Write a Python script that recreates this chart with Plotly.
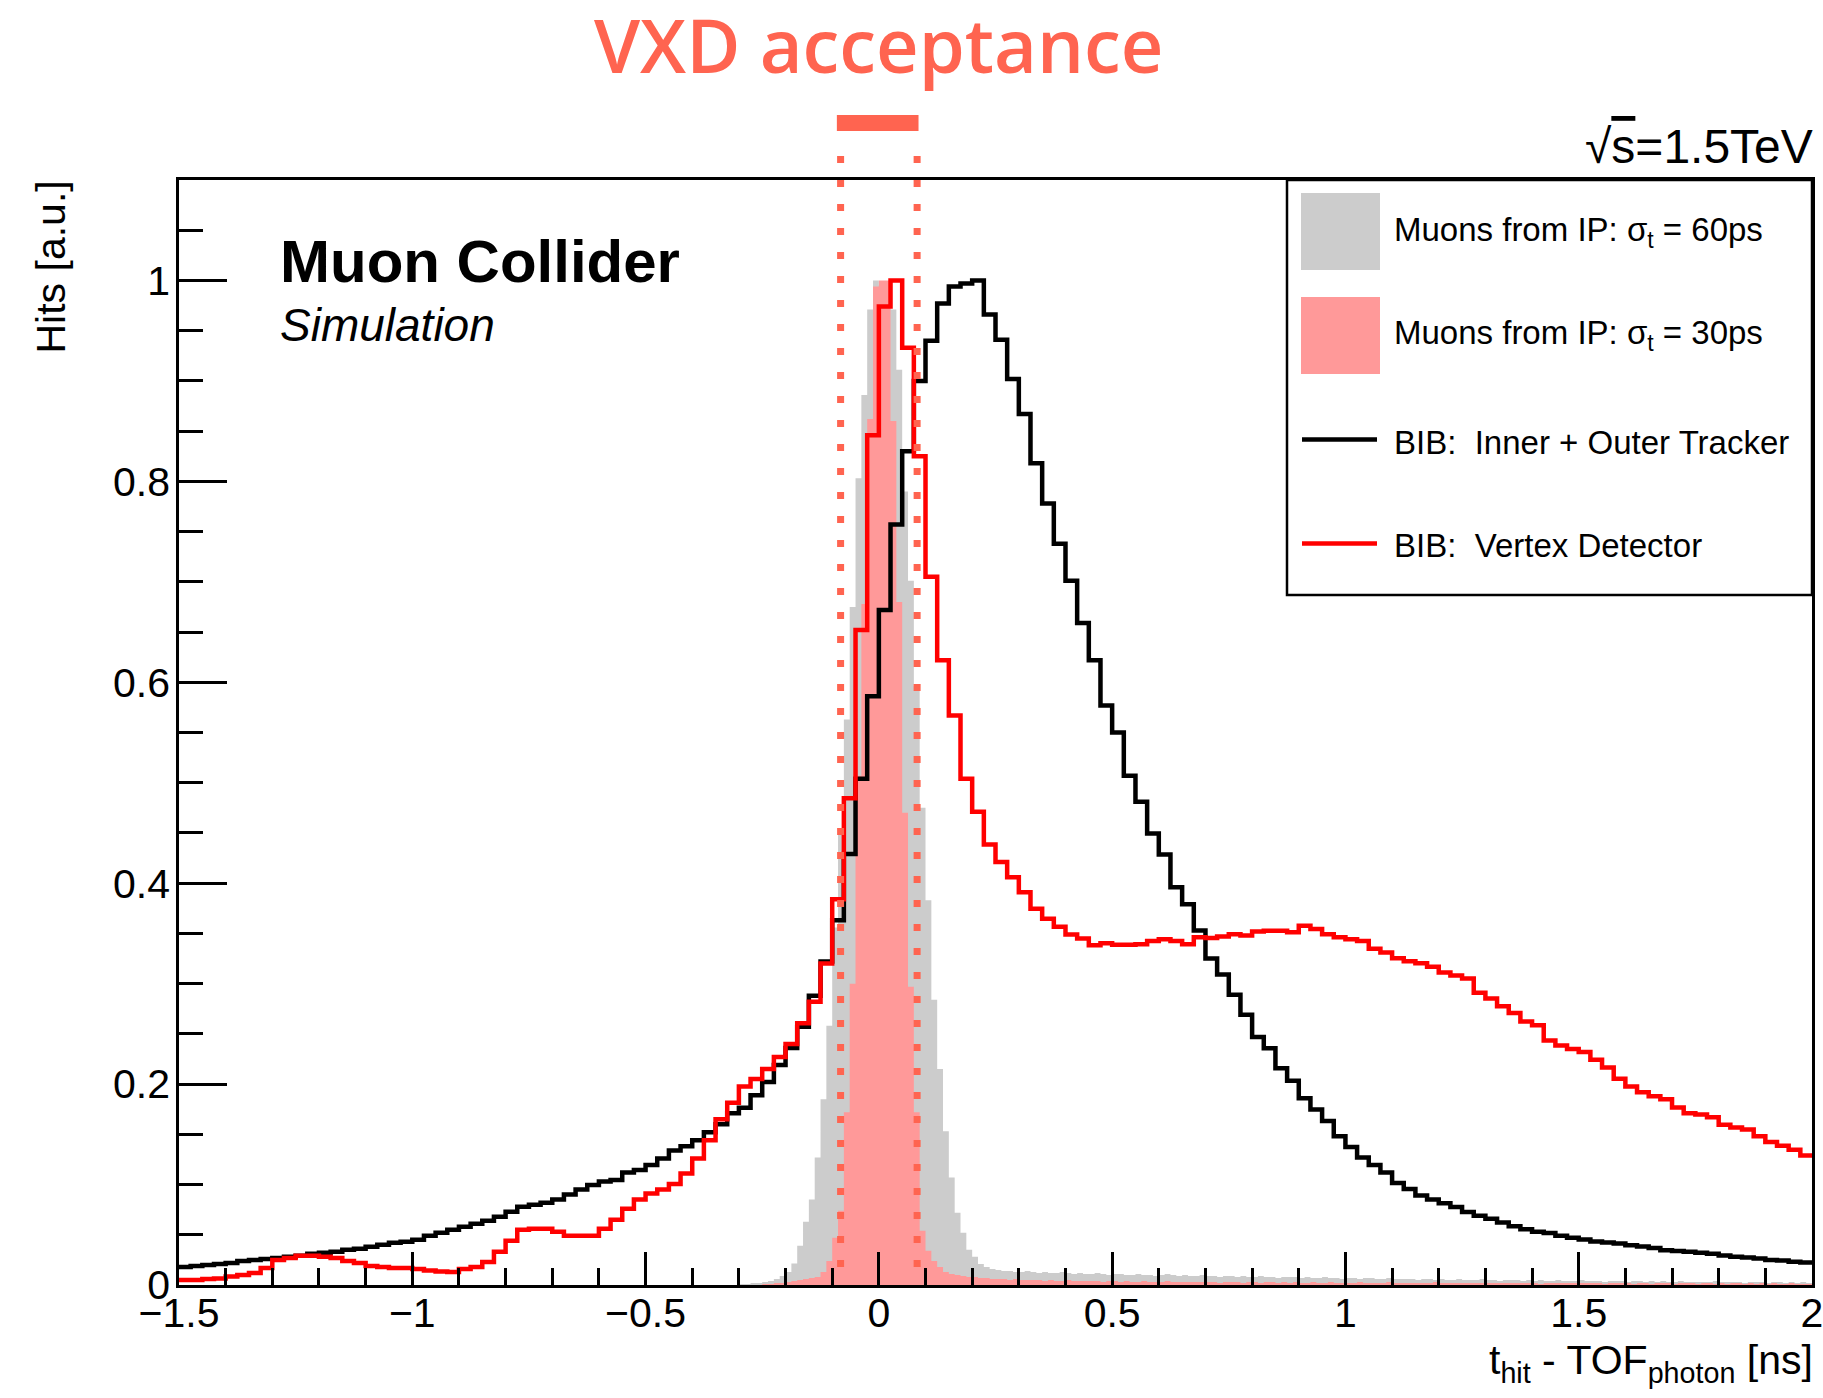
import numpy as np
import plotly.graph_objects as go

# ---------------- data ----------------
BIN_START = -1.5          # first edge of the BIB histograms [ns]
LINE_BIN_WIDTH = 0.025    # BIB histogram bin width [ns]
FINE_START = -0.3         # first edge of the muon histograms [ns]
FINE_BIN_WIDTH = 0.0125   # muon histogram bin width [ns]

bib_tracker = [
    0.018, 0.019, 0.020, 0.021, 0.022, 0.024, 0.025, 0.026, 0.027, 0.028,
    0.029, 0.031, 0.032, 0.033, 0.035, 0.036, 0.038, 0.040, 0.042, 0.043,
    0.045, 0.049, 0.052, 0.055, 0.058, 0.061, 0.064, 0.068, 0.073, 0.078,
    0.080, 0.082, 0.085, 0.090, 0.095, 0.0995, 0.103, 0.1045, 0.112, 0.1145,
    0.1195, 0.126, 0.134, 0.138, 0.144, 0.152, 0.160, 0.171, 0.1765, 0.189,
    0.202, 0.219, 0.236, 0.257, 0.288, 0.322, 0.363, 0.429, 0.504, 0.586,
    0.672, 0.757, 0.830, 0.900, 0.940, 0.977, 0.994, 0.997, 1.0, 0.966,
    0.941, 0.902, 0.867, 0.818, 0.778, 0.738, 0.701, 0.659, 0.622, 0.577,
    0.550, 0.507, 0.481, 0.4495, 0.4285, 0.396, 0.379, 0.353, 0.325, 0.309,
    0.289, 0.269, 0.247, 0.2357, 0.2158, 0.2033, 0.186, 0.1747, 0.1633, 0.148,
    0.1374, 0.127, 0.1195, 0.112, 0.1015, 0.0955, 0.089, 0.0852, 0.0814, 0.0776,
    0.0727, 0.069, 0.066, 0.0623, 0.0585, 0.0555, 0.053, 0.0518, 0.049, 0.047,
    0.0452, 0.0433, 0.0422, 0.0414, 0.0395, 0.0384, 0.0369, 0.0346, 0.0338, 0.033,
    0.032, 0.031, 0.0293, 0.0282, 0.0274, 0.0263, 0.025, 0.0243, 0.0232, 0.0224,
]

bib_vertex = [
    0.005, 0.005, 0.006, 0.0065, 0.0085, 0.010, 0.012, 0.017, 0.025, 0.027,
    0.029, 0.029, 0.028, 0.027, 0.024, 0.022, 0.019, 0.018, 0.017, 0.017,
    0.016, 0.0145, 0.0135, 0.013, 0.016, 0.018, 0.023, 0.033, 0.044, 0.055,
    0.056, 0.056, 0.053, 0.049, 0.049, 0.049, 0.056, 0.065, 0.076, 0.085,
    0.091, 0.095, 0.1005, 0.111, 0.126, 0.144, 0.165, 0.1815, 0.1975, 0.205,
    0.215, 0.227, 0.240, 0.2605, 0.282, 0.320, 0.384, 0.4845, 0.652, 0.846,
    0.974, 1.0, 0.933, 0.825, 0.705, 0.622, 0.567, 0.504, 0.471, 0.4385,
    0.421, 0.406, 0.391, 0.3745, 0.3646, 0.3567, 0.3488, 0.3449, 0.3383, 0.3403,
    0.3386, 0.3386, 0.3393, 0.3424, 0.3443, 0.3424, 0.3393, 0.3461, 0.3455, 0.347,
    0.3492, 0.348, 0.3519, 0.3527, 0.3527, 0.3511, 0.3576, 0.3545, 0.3492, 0.3461,
    0.3443, 0.3424, 0.3347, 0.3309, 0.3252, 0.3222, 0.3203, 0.3168, 0.3111, 0.3081,
    0.305, 0.2909, 0.2852, 0.2776, 0.2707, 0.2623, 0.2585, 0.2433, 0.2383, 0.2349,
    0.2319, 0.2243, 0.2166, 0.2052, 0.1976, 0.1919, 0.188, 0.185, 0.1766, 0.1709,
    0.1698, 0.1671, 0.1595, 0.1568, 0.1549, 0.148, 0.1423, 0.1385, 0.1347, 0.129,
]

muons_60ps = [
    0.001, 0.001, 0.002, 0.002, 0.003, 0.004, 0.006, 0.009, 0.013,
    0.0215, 0.039, 0.063, 0.085, 0.127, 0.185, 0.258, 0.356, 0.455, 0.563,
    0.675, 0.803, 0.886, 0.971, 1.0, 0.995, 0.985, 0.971, 0.911, 0.790,
    0.701, 0.596, 0.475, 0.383, 0.284, 0.215, 0.153, 0.107, 0.072, 0.052,
    0.035, 0.028, 0.021, 0.018, 0.016, 0.015,
    0.014, 0.014, 0.013, 0.013, 0.014, 0.013, 0.012, 0.013, 0.012, 0.012,
    0.013, 0.012, 0.011, 0.012, 0.011, 0.011, 0.012, 0.011, 0.010, 0.011,
    0.011, 0.010, 0.010, 0.011, 0.010, 0.010, 0.009, 0.010, 0.011, 0.010,
    0.009, 0.010, 0.009, 0.009, 0.010, 0.009, 0.009, 0.008, 0.009, 0.009,
    0.008, 0.009, 0.008, 0.008, 0.009, 0.008, 0.008, 0.007, 0.008, 0.008,
    0.008, 0.007, 0.008, 0.007, 0.007, 0.008, 0.007, 0.007, 0.006, 0.007,
    0.007, 0.006, 0.007, 0.007, 0.006, 0.006, 0.007, 0.006, 0.006, 0.006,
    0.006, 0.005, 0.006, 0.006, 0.005, 0.006, 0.005, 0.005, 0.006, 0.005,
    0.005, 0.005, 0.006, 0.005, 0.005, 0.004, 0.005, 0.005, 0.005, 0.004,
    0.005, 0.004, 0.005, 0.004, 0.004, 0.005, 0.004, 0.004, 0.004, 0.005,
    0.004, 0.004, 0.004, 0.003, 0.004, 0.004, 0.004, 0.003, 0.004, 0.004,
    0.003, 0.004, 0.003, 0.004, 0.003, 0.003, 0.004, 0.003, 0.003, 0.003,
    0.003, 0.003, 0.004, 0.003, 0.003, 0.003, 0.003, 0.002, 0.003, 0.003,
    0.003, 0.002, 0.003, 0.003, 0.002, 0.003, 0.002, 0.003, 0.002,
]

muons_30ps = [
    0.0, 0.0, 0.0, 0.0, 0.001, 0.001, 0.002, 0.002, 0.003,
    0.004, 0.005, 0.006, 0.007, 0.008, 0.013, 0.024, 0.047, 0.074, 0.172,
    0.300, 0.507, 0.678, 0.862, 0.994, 1.0, 1.0, 0.860, 0.680, 0.470,
    0.297, 0.172, 0.054, 0.034, 0.024, 0.018, 0.013, 0.011, 0.010, 0.009,
    0.008, 0.008, 0.007, 0.007, 0.006, 0.006,
    0.006, 0.005, 0.006, 0.005, 0.005, 0.005, 0.005, 0.004, 0.005, 0.004,
    0.004, 0.005, 0.004, 0.004, 0.004, 0.004, 0.004, 0.003, 0.004, 0.004,
    0.003, 0.004, 0.003, 0.003, 0.004, 0.003, 0.003, 0.003, 0.004, 0.003,
    0.003, 0.003, 0.003, 0.003, 0.003, 0.003, 0.003, 0.002, 0.003, 0.003,
    0.003, 0.002, 0.003, 0.003, 0.002, 0.003, 0.003, 0.002, 0.003, 0.002,
    0.003, 0.002, 0.002, 0.003, 0.002, 0.002, 0.003, 0.002, 0.002, 0.002,
    0.002, 0.003, 0.002, 0.002, 0.002, 0.002, 0.003, 0.002, 0.002, 0.002,
    0.002, 0.002, 0.002, 0.002, 0.003, 0.002, 0.002, 0.002, 0.002, 0.002,
    0.002, 0.002, 0.002, 0.002, 0.002, 0.002, 0.002, 0.002, 0.002, 0.002,
    0.002, 0.002, 0.001, 0.002, 0.002, 0.002, 0.002, 0.002, 0.002, 0.002,
    0.002, 0.002, 0.002, 0.001, 0.002, 0.002, 0.002, 0.002, 0.001, 0.002,
    0.002, 0.001, 0.002, 0.002, 0.002, 0.001, 0.002, 0.002, 0.002, 0.001,
    0.002, 0.002, 0.001, 0.002, 0.001, 0.002, 0.002, 0.001, 0.002, 0.001,
    0.002, 0.001, 0.002, 0.001, 0.001, 0.002, 0.001, 0.001, 0.001,
]

ACCEPTANCE = [-0.082, 0.082]      # VXD time window [ns]

x_tickvals = [-1.5, -1.0, -0.5, 0.0, 0.5, 1.0, 1.5, 2.0]
x_ticktext = ["\u22121.5", "\u22121", "\u22120.5", "0", "0.5", "1", "1.5", "2"]
y_tickvals = [0.0, 0.2, 0.4, 0.6, 0.8, 1.0]
y_ticktext = ["0", "0.2", "0.4", "0.6", "0.8", "1"]

legend_labels = [
    "Muons from IP: \u03c3<sub>t</sub> = 60ps",
    "Muons from IP: \u03c3<sub>t</sub> = 30ps",
    "BIB:  Inner + Outer Tracker",
    "BIB:  Vertex Detector",
]

# ---------------- styles ----------------
GRAY = "#cccccc"
PINK = "#ff9999"
RED = "#ff0000"
BLACK = "#000000"
CORAL = "#ff6450"
FONT = "Liberation Sans, Arial, Helvetica, sans-serif"

W, H = 1823, 1398
ML, MR, MT, MB = 179, 11, 180, 113
PW, PH = W - ML - MR, H - MT - MB


def px_x(xf):
    return (xf - ML) / PW


def px_y(yf):
    return (H - MB - yf) / PH


def step_xy(start, width, vals):
    vals = np.asarray(vals, dtype=float)
    edges = start + width * np.arange(len(vals) + 1)
    return edges, np.append(vals, vals[-1])


fig = go.Figure()

for vals, col in [(muons_60ps, GRAY), (muons_30ps, PINK)]:
    ex, ey = step_xy(FINE_START, FINE_BIN_WIDTH, vals)
    fig.add_trace(go.Scatter(x=ex, y=ey, mode="lines",
                             line=dict(shape="hv", width=0, color=col),
                             fill="tozeroy", fillcolor=col,
                             hoverinfo="skip", showlegend=False))

for vals, col in [(bib_tracker, BLACK), (bib_vertex, RED)]:
    ex, ey = step_xy(BIN_START, LINE_BIN_WIDTH, vals)
    fig.add_trace(go.Scatter(x=ex, y=ey, mode="lines",
                             line=dict(shape="hv", width=4.5, color=col),
                             hoverinfo="skip", showlegend=False))

shapes = []
# acceptance window: dotted lines + bar
for xv in ACCEPTANCE:
    shapes.append(dict(type="line", xref="x", yref="paper",
                       x0=xv, x1=xv, y0=px_y(156), y1=px_y(1280),
                       line=dict(color=CORAL, width=7, dash="7px,17px")))
shapes.append(dict(type="rect", xref="x", yref="paper",
                   x0=ACCEPTANCE[0] - 0.008, x1=ACCEPTANCE[1] + 0.003,
                   y0=px_y(131), y1=px_y(115),
                   line=dict(width=0), fillcolor=CORAL))

# legend box
shapes.append(dict(type="rect", xref="paper", yref="paper",
                   x0=px_x(1287), x1=1.0, y0=px_y(595), y1=1.0,
                   line=dict(color=BLACK, width=2.5), fillcolor="white",
                   layer="above"))
# swatches
shapes.append(dict(type="rect", xref="paper", yref="paper",
                   x0=px_x(1301), x1=px_x(1380), y0=px_y(270), y1=px_y(193),
                   line=dict(width=0), fillcolor=GRAY))
shapes.append(dict(type="rect", xref="paper", yref="paper",
                   x0=px_x(1301), x1=px_x(1380), y0=px_y(374), y1=px_y(297),
                   line=dict(width=0), fillcolor=PINK))
shapes.append(dict(type="line", xref="paper", yref="paper",
                   x0=px_x(1302), x1=px_x(1377), y0=px_y(439.5), y1=px_y(439.5),
                   line=dict(color=BLACK, width=4.5)))
shapes.append(dict(type="line", xref="paper", yref="paper",
                   x0=px_x(1302), x1=px_x(1377), y0=px_y(543.5), y1=px_y(543.5),
                   line=dict(color=RED, width=4.5)))

annotations = []
legend_y = [231.8, 335.3, 442.1, 545.4]
for lab, yy in zip(legend_labels, legend_y):
    annotations.append(dict(xref="paper", yref="paper", x=px_x(1393), y=px_y(yy),
                            xanchor="left", yanchor="middle", showarrow=False,
                            text=lab, borderpad=0,
                            font=dict(family=FONT, size=33, color=BLACK)))

annotations += [
    dict(xref="x", yref="paper", x=0.0, y=px_y(44), xanchor="center",
         yanchor="middle", showarrow=False, text="VXD acceptance", borderpad=0,
         font=dict(family="Open Sans, sans-serif", size=74, color=CORAL, weight=600)),
    dict(xref="paper", yref="paper", x=px_x(279), y=px_y(261.7), xanchor="left",
         yanchor="middle", showarrow=False, text="<b>Muon Collider</b>", borderpad=0,
         font=dict(family=FONT, size=60, color=BLACK)),
    dict(xref="paper", yref="paper", x=px_x(279), y=px_y(324.7), xanchor="left",
         yanchor="middle", showarrow=False, text="<i>Simulation</i>", borderpad=0,
         font=dict(family=FONT, size=46, color=BLACK)),
    dict(xref="paper", yref="paper", x=px_x(1814), y=px_y(146.4), xanchor="right",
         yanchor="middle", showarrow=False, borderpad=0,
         text="\u221a<span style='text-decoration:overline'>s</span>=1.5TeV",
         font=dict(family=FONT, size=48, color=BLACK)),
    dict(xref="paper", yref="paper", x=px_x(50), y=1.0, xanchor="center",
         yanchor="top", showarrow=False, textangle=-90, text="Hits [a.u.]",
         borderpad=0, font=dict(family=FONT, size=41, color=BLACK)),
    dict(xref="paper", yref="paper", x=px_x(1814), y=px_y(1363), xanchor="right",
         yanchor="middle", showarrow=False, borderpad=0,
         text="t<sub>hit</sub> - TOF<sub>photon</sub> [ns]",
         font=dict(family=FONT, size=41, color=BLACK)),
]

axis_common = dict(showgrid=False, zeroline=False, showline=True, mirror=True,
                   linecolor=BLACK, linewidth=2.5, ticks="inside",
                   tickcolor=BLACK, tickwidth=2.5, automargin=False,
                   ticklabeloverflow="allow",
                   tickfont=dict(family=FONT, size=41, color=BLACK))

fig.update_layout(
    width=W, height=H,
    margin=dict(l=ML, r=MR, t=MT, b=MB, pad=0, autoexpand=False),
    paper_bgcolor="white", plot_bgcolor="white",
    showlegend=False,
    font=dict(family=FONT, color=BLACK),
    xaxis=dict(range=[x_tickvals[0], x_tickvals[-1]], tickmode="array",
               tickvals=x_tickvals, ticktext=x_ticktext, ticklen=33,
               minor=dict(ticks="inside", ticklen=17, tickwidth=2.5,
                          tickcolor=BLACK, tickmode="linear",
                          tick0=x_tickvals[0], dtick=0.1),
               ticklabelstandoff=-10, **axis_common),
    yaxis=dict(range=[0, 1.1], tickmode="array", tickvals=y_tickvals,
               ticktext=y_ticktext, ticklen=48,
               minor=dict(ticks="inside", ticklen=24, tickwidth=2.5,
                          tickcolor=BLACK, tickmode="linear", tick0=0, dtick=0.05),
               ticklabelstandoff=-2, **axis_common),
    shapes=shapes,
    annotations=annotations,
)

fig.write_html("out.html")
